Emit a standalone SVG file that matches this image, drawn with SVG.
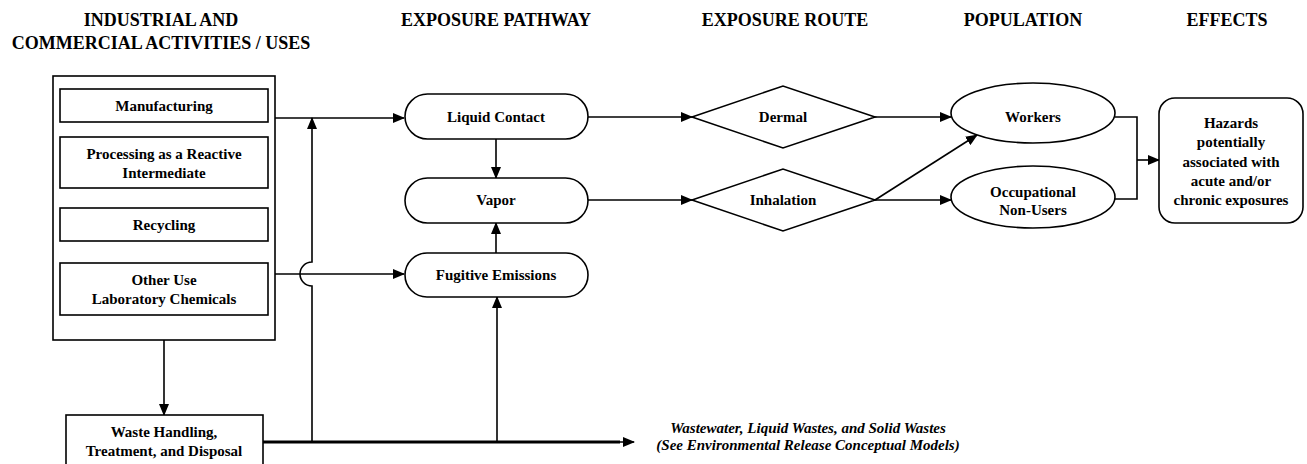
<svg xmlns="http://www.w3.org/2000/svg" width="1307" height="464" viewBox="0 0 1307 464">
<style>
.hdr{font-family:"Liberation Serif","Times New Roman",serif;font-weight:bold;font-size:18px;fill:#000;text-anchor:middle}
.t{font-family:"Liberation Serif","Times New Roman",serif;font-weight:bold;font-size:15px;fill:#000;text-anchor:middle}
.ti{font-family:"Liberation Serif","Times New Roman",serif;font-weight:bold;font-style:italic;font-size:15px;fill:#000;text-anchor:middle}
.box{fill:#fff;stroke:#000;stroke-width:1.6}
.ln{fill:none;stroke:#000;stroke-width:1.6}
.arr{marker-end:url(#ah)}
</style>
<defs>
<marker id="ah" markerUnits="userSpaceOnUse" markerWidth="12" markerHeight="10" refX="11" refY="5" orient="auto">
<path d="M0,0 L12,5 L0,10 Z" fill="#000"/>
</marker>
</defs>
<rect width="1307" height="464" fill="#fff"/>

<g id="headers">
<text class="hdr" x="161" y="26">INDUSTRIAL AND</text>
<text class="hdr" x="161" y="49">COMMERCIAL ACTIVITIES / USES</text>
<text class="hdr" x="496" y="26">EXPOSURE PATHWAY</text>
<text class="hdr" x="785" y="26">EXPOSURE ROUTE</text>
<text class="hdr" x="1023" y="26">POPULATION</text>
<text class="hdr" x="1227" y="26">EFFECTS</text>
</g>

<g id="connectors">
<path class="ln arr" d="M275,118 H404"/>
<path class="ln arr" d="M275,274 H404"/>
<path class="ln arr" d="M312,442 V286 A12,12 0 0 1 312,262 V118"/>
<path class="ln arr" d="M164,340 V415"/>
<path class="ln" d="M263,442 H620" style="stroke-width:3"/>
<path class="ln arr" d="M600,442 H634"/>
<path class="ln arr" d="M497,442 V297"/>
<path class="ln arr" d="M496,139 V178"/>
<path class="ln arr" d="M496,253 V223"/>
<path class="ln arr" d="M588,117 H692"/>
<path class="ln arr" d="M588,200 H692"/>
<path class="ln arr" d="M875,117 H951"/>
<path class="ln arr" d="M875,200 H951"/>
<path class="ln arr" d="M875,200 L977,135"/>
<path class="ln" d="M1115,117 H1137 V199 H1115"/>
<path class="ln arr" d="M1137,160 H1159"/>
</g>

<g id="activities">
<rect class="box" x="53" y="76" width="222" height="264"/>
</g>
<g id="manufacturing">
<rect class="box" x="60" y="89" width="208" height="33"/>
<text class="t" x="164" y="111">Manufacturing</text>
</g>
<g id="processing">
<rect class="box" x="60" y="137" width="208" height="51"/>
<text class="t" x="164" y="159">Processing as a Reactive</text>
<text class="t" x="164" y="178">Intermediate</text>
</g>
<g id="recycling">
<rect class="box" x="60" y="208" width="208" height="33"/>
<text class="t" x="164" y="230">Recycling</text>
</g>
<g id="otheruse">
<rect class="box" x="60" y="263" width="208" height="52"/>
<text class="t" x="164" y="285">Other Use</text>
<text class="t" x="164" y="304">Laboratory Chemicals</text>
</g>
<g id="waste">
<rect class="box" x="66" y="415" width="197" height="56"/>
<text class="t" x="164" y="437">Waste Handling,</text>
<text class="t" x="164" y="456">Treatment, and Disposal</text>
</g>

<g id="liquid-contact">
<rect class="box" x="405" y="94" width="183" height="45" rx="22.5"/>
<text class="t" x="496" y="122">Liquid Contact</text>
</g>
<g id="vapor">
<rect class="box" x="405" y="178" width="183" height="45" rx="22.5"/>
<text class="t" x="496" y="205">Vapor</text>
</g>
<g id="fugitive">
<rect class="box" x="405" y="253" width="183" height="44" rx="22"/>
<text class="t" x="496" y="280">Fugitive Emissions</text>
</g>

<g id="dermal">
<polygon class="box" points="692,117 783,86 875,117 783,148"/>
<text class="t" x="783" y="122">Dermal</text>
</g>
<g id="inhalation">
<polygon class="box" points="692,200 783,169 875,200 783,231"/>
<text class="t" x="783" y="205">Inhalation</text>
</g>

<g id="workers">
<ellipse class="box" cx="1033" cy="113" rx="82" ry="30"/>
<text class="t" x="1033" y="122">Workers</text>
</g>
<g id="occupational">
<ellipse class="box" cx="1033" cy="197" rx="82" ry="31"/>
<text class="t" x="1033" y="197">Occupational</text>
<text class="t" x="1033" y="215">Non-Users</text>
</g>

<g id="hazards">
<rect class="box" x="1159" y="98" width="144" height="125" rx="16"/>
<text class="t" x="1231" y="128">Hazards</text>
<text class="t" x="1231" y="147">potentially</text>
<text class="t" x="1231" y="167">associated with</text>
<text class="t" x="1231" y="186">acute and/or</text>
<text class="t" x="1231" y="205">chronic exposures</text>
</g>

<g id="wastewater-note">
<text class="ti" x="808" y="433">Wastewater, Liquid Wastes, and Solid Wastes</text>
<text class="ti" x="808" y="450">(See Environmental Release Conceptual Models)</text>
</g>
</svg>
